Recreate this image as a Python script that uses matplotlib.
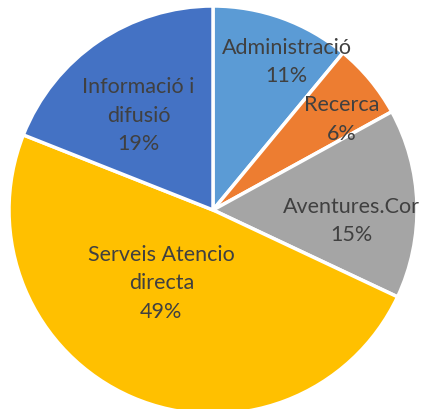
import numpy as np
import matplotlib
matplotlib.use("Agg")
import matplotlib.pyplot as plt

labels = ["Administració", "Recerca", "Aventures.Cor", "Serveis Atencio\ndirecta", "Informació i\ndifusió"]
shares = [11, 6, 15, 49, 19]
colors = ["#5B9BD5", "#ED7D31", "#A5A5A5", "#FFC000", "#4472C4"]

# label placement tweaks (radius fraction, angle shift in degrees)
label_r = [0.81, 0.77, 0.68, 0.44, 0.59]
label_da = [-6.6, -4.4, -6.3, -11.7, 4.1]

W, H = 422, 409
fig = plt.figure(figsize=(W / 100, H / 100), dpi=100)
ax = fig.add_axes([0, 0, 1, 1])

cx, cy, R = 213, 210, 204
wedges, _ = ax.pie(shares, colors=colors, startangle=90, counterclock=False,
                   radius=R, center=(cx, H - cy),
                   wedgeprops=dict(edgecolor="white", linewidth=2.5))

for w, lab, s, rf, da in zip(wedges, labels, shares, label_r, label_da):
    mid = np.deg2rad((w.theta1 + w.theta2) / 2 + da)
    x = cx + rf * R * np.cos(mid)
    y = H - cy + rf * R * np.sin(mid)
    ax.text(x, y, f"{lab}\n{s}%", ha="center", va="center", fontsize=15.5,
            family="Lato", color="#404040", linespacing=1.52)

ax.set_xlim(0, W)
ax.set_ylim(0, H)
ax.set_aspect("equal")
ax.axis("off")
fig.savefig("out.png", dpi=100)
